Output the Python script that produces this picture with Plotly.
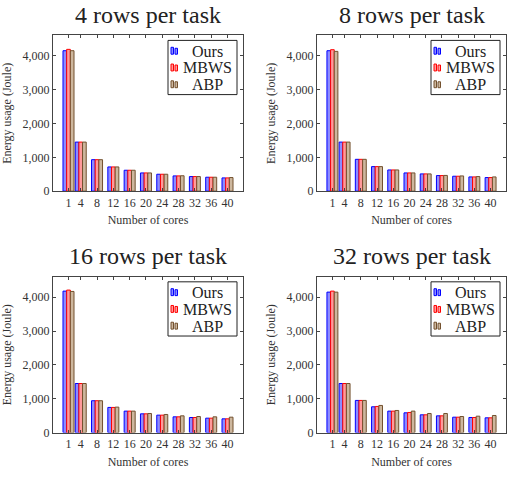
import plotly.graph_objects as go

cores = [1, 4, 8, 12, 16, 20, 24, 28, 32, 36, 40]
series_names = ["Ours", "MBWS", "ABP"]
panel_titles = ["4 rows per task", "8 rows per task", "16 rows per task", "32 rows per task"]

ours_4 = [4150, 1450, 930, 716, 618, 539, 500, 451, 431, 412, 392]
mbws_4 = [4190, 1450, 930, 716, 618, 539, 500, 451, 431, 412, 392]
abp_4 = [4150, 1450, 930, 716, 618, 539, 500, 455, 431, 412, 402]

ours_8 = [4150, 1450, 941, 725, 627, 539, 510, 461, 441, 421, 402]
mbws_8 = [4180, 1450, 941, 725, 627, 539, 510, 461, 441, 421, 402]
abp_8 = [4130, 1450, 941, 725, 627, 539, 510, 465, 450, 431, 421]

ours_16 = [4180, 1450, 941, 743, 634, 554, 515, 465, 446, 426, 406]
mbws_16 = [4210, 1450, 941, 743, 634, 554, 515, 465, 446, 426, 406]
abp_16 = [4170, 1450, 941, 752, 634, 564, 535, 495, 475, 465, 455]

ours_32 = [4150, 1450, 950, 762, 634, 584, 525, 495, 455, 446, 436]
mbws_32 = [4180, 1450, 950, 772, 634, 594, 525, 495, 455, 446, 436]
abp_32 = [4150, 1450, 950, 802, 653, 634, 564, 564, 475, 485, 505]

panels = [
    (ours_4, mbws_4, abp_4),
    (ours_8, mbws_8, abp_8),
    (ours_16, mbws_16, abp_16),
    (ours_32, mbws_32, abp_32),
]

y_ticks = [0, 1000, 2000, 3000, 4000]

fills = ["#8c8cff", "#ff9a9a", "#cdb79e"]
edges = ["#0000ff", "#ff0000", "#73512e"]

W, H = 510, 479
FONT = "Liberation Serif"

# pixel boxes [x0, x1, ytop, ybottom]
boxes = [
    (53, 243, 36, 194),
    (317, 506, 36, 194),
    (53, 243, 281, 439),
    (317, 506, 281, 439),
]


def px(x):
    return x / W


def py(y):
    return 1 - y / H


fig = go.Figure()
layout = dict(
    width=W, height=H, margin=dict(l=0, r=0, t=0, b=0),
    paper_bgcolor="white", plot_bgcolor="white",
    barmode="group", bargap=0.1, bargroupgap=0.0,
    font=dict(family=FONT, color="#333333"),
    showlegend=False,
)
annotations = []
shapes = []

for i, (vals, title, box) in enumerate(zip(panels, panel_titles, boxes)):
    n = i + 1
    xa = "x" if n == 1 else f"x{n}"
    ya = "y" if n == 1 else f"y{n}"
    x0, x1, yt, yb = box
    for name, v, fc, ec in zip(series_names, vals, fills, edges):
        fig.add_trace(go.Bar(
            x=cores, y=v, name=name, xaxis=xa, yaxis=ya,
            marker=dict(color=fc, line=dict(color=ec, width=1)),
        ))
    common = dict(
        showline=True, linecolor="#444444", linewidth=1, mirror="ticks",
        ticks="inside", ticklen=3, tickcolor="#444444",
        showgrid=False, zeroline=False,
        tickfont=dict(family=FONT, size=12, color="#333333"),
    )
    layout[f"xaxis{'' if n == 1 else n}"] = dict(
        domain=[px(x0), px(x1)], anchor=ya, range=[-2.8, 43.8],
        tickvals=cores, ticktext=[str(c) for c in cores],
        title=dict(text="Number of cores", font=dict(family=FONT, size=12, color="#333333"), standoff=7),
        **common,
    )
    layout[f"yaxis{'' if n == 1 else n}"] = dict(
        domain=[py(yb), py(yt)], anchor=xa, range=[0, 4600],
        tickvals=y_ticks, tickformat=",d",
        title=dict(text="Energy usage (Joule)", font=dict(family=FONT, size=12, color="#333333"), standoff=8),
        **common,
    )
    annotations.append(dict(
        text=title, x=px((x0 + x1) / 2), y=py(yt - 21),
        xref="paper", yref="paper", xanchor="center", yanchor="middle",
        showarrow=False, font=dict(family=FONT, size=24, color="#222222"),
    ))

    # legend box (pgfplots style: small bar icons + centred names)
    lx1 = x1 - 6
    lx0 = lx1 - 69
    ly0 = yt + 5
    ly1 = ly0 + 55
    shapes.append(dict(
        type="rect", xref="paper", yref="paper",
        x0=px(lx0), x1=px(lx1), y0=py(ly1), y1=py(ly0),
        line=dict(color="#222222", width=1), fillcolor="white", layer="above",
    ))
    for k, (name, fc, ec) in enumerate(zip(series_names, fills, edges)):
        cy = ly0 + 11 + k * 17
        for j, hgt in enumerate([7, 6]):
            bx0 = lx0 + 3 + j * 4
            shapes.append(dict(
                type="rect", xref="paper", yref="paper",
                x0=px(bx0), x1=px(bx0 + 2.5), y0=py(cy + 3), y1=py(cy + 3 - hgt),
                line=dict(color=ec, width=1), fillcolor=fc, layer="above",
            ))
        annotations.append(dict(
            text=name, x=px(lx0 + 39), y=py(cy),
            xref="paper", yref="paper", xanchor="center", yanchor="middle",
            showarrow=False, font=dict(family=FONT, size=16, color="#222222"),
        ))

layout["annotations"] = annotations
layout["shapes"] = shapes
fig.update_layout(**layout)
fig.write_html("out.html")
